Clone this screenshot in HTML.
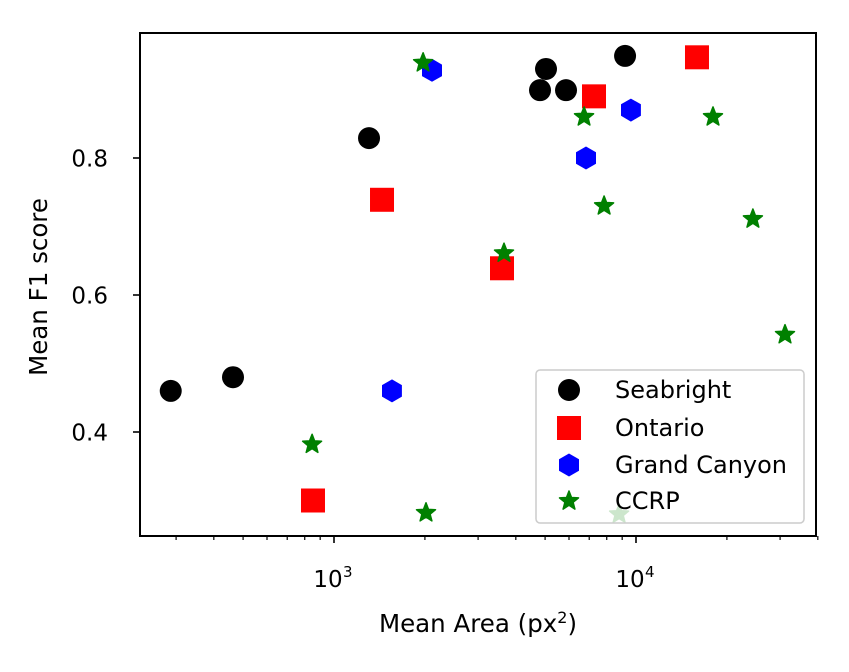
<!DOCTYPE html>
<html><head><meta charset="utf-8"><style>
html,body{margin:0;padding:0;background:#fff;}
svg{display:block;font-family:"DejaVu Sans","Liberation Sans",sans-serif;}
</style></head><body>
<svg id="chart" width="849" height="672" viewBox="0 0 849 672" xmlns="http://www.w3.org/2000/svg">
<g id="marks"></g>
<g id="axes"></g>
<g id="legend"></g>
</svg>
<script>
const seabrightX=[288,463,1306,4810,5035,5865,9200];
const seabrightY=[0.460,0.480,0.829,0.899,0.930,0.899,0.949];
const ontarioX=[852,1442,3600,7260,15920];
const ontarioY=[0.300,0.739,0.639,0.890,0.947];
const canyonX=[2111,1556,6830,9620];
const canyonY=[0.928,0.460,0.800,0.870];
const ccrpX=[1972,846,2017,3655,6730,7840,8790,17990,24380,31150];
const ccrpY=[0.939,0.382,0.282,0.661,0.860,0.730,0.280,0.860,0.711,0.542];
const yTicks=[0.4,0.6,0.8];
const xMajor=[1000,10000];
const xMajorLabels=["10","10"];
const xMinor=[300,400,500,600,700,800,900,2000,3000,4000,5000,6000,7000,8000,9000,20000,30000,40000];

const L=140,R=816,T=33,B=536;
const NS="http://www.w3.org/2000/svg";
function xs(v){return 334+302*Math.log10(v/1000);}
function ys(v){return 158+(0.8-v)*685;}
function mk(tag,attrs,parent){const e=document.createElementNS(NS,tag);for(const k in attrs)e.setAttribute(k,attrs[k]);parent.appendChild(e);return e;}
const marks=document.getElementById('marks'),axes=document.getElementById('axes'),leg=document.getElementById('legend');

function circle(x,y,p){return mk('circle',{cx:x,cy:y,r:11,fill:'#000'},p);}
function square(x,y,p){return mk('rect',{x:x-12,y:y-12,width:24,height:24,fill:'#ff0000'},p);}
function hexagon(x,y,p){let pts=[];for(let i=0;i<6;i++){const a=Math.PI/180*(90+60*i);pts.push((x+11.5*Math.cos(a)).toFixed(1)+','+(y-11.5*Math.sin(a)).toFixed(1));}return mk('polygon',{points:pts.join(' '),fill:'#0000ff'},p);}
function star(x,y,p){let pts=[];for(let i=0;i<10;i++){const r=i%2?4.3:10;const a=Math.PI/180*(90+36*i);pts.push((x+r*Math.cos(a)).toFixed(1)+','+(y-r*Math.sin(a)).toFixed(1));}return mk('polygon',{points:pts.join(' '),fill:'#008000',stroke:'#008000','stroke-width':1.5,'stroke-linejoin':'round'},p);}

for(let i=0;i<seabrightX.length;i++){const e=circle(xs(seabrightX[i]),ys(seabrightY[i]),marks);

}
for(let i=0;i<ontarioX.length;i++){const e=square(xs(ontarioX[i]),ys(ontarioY[i]),marks);

}
for(let i=0;i<canyonX.length;i++){const e=hexagon(xs(canyonX[i]),ys(canyonY[i]),marks);

}
for(let i=0;i<ccrpX.length;i++){const e=star(xs(ccrpX[i]),ys(ccrpY[i]),marks);

}

const fr=mk('rect',{x:L,y:T,width:R-L,height:B-T,fill:'none',stroke:'#000','stroke-width':2},axes);


yTicks.forEach(v=>{const y=ys(v);
mk('line',{x1:L-7,x2:L,y1:y,y2:y,stroke:'#000','stroke-width':1.6},axes);
const t=mk('text',{x:L-32,y:y+8.5,'text-anchor':'end','font-size':23},axes);t.textContent=v.toFixed(1);

});
xMajor.forEach((v,i)=>{const x=xs(v);
mk('line',{x1:x,x2:x,y1:B,y2:B+7,stroke:'#000','stroke-width':1.6},axes);
const t=mk('text',{x:x-6,y:B+51,'text-anchor':'middle','font-size':23},axes);t.textContent=xMajorLabels[i];


const s=mk('text',{x:x+9,y:B+41,'text-anchor':'start','font-size':15},axes);s.textContent=String(Math.round(Math.log10(v)));

});
xMinor.forEach(v=>{const x=xs(v);if(x<L||x>R+3)return;mk('line',{x1:x,x2:x,y1:B,y2:B+4,stroke:'#000','stroke-width':1.2},axes);});
const yl=mk('text',{x:0,y:0,'text-anchor':'middle','font-size':24.5,transform:'translate(47,287) rotate(-90)'},axes);yl.textContent='Mean F1 score';


const xl=mk('text',{x:478,y:632,'text-anchor':'middle','font-size':24.5},axes);
xl.innerHTML='Mean Area (px<tspan font-size="16" dy="-9">2</tspan><tspan dy="9">)</tspan>';



const lb=mk('rect',{x:536,y:370,width:268,height:153,rx:4,fill:'#fff','fill-opacity':0.8,stroke:'#ccc','stroke-width':1.5},leg);


const names=['Seabright','Ontario','Grand Canyon','CCRP'];
const fns=[circle,square,hexagon,star];
const ly=[390,428,465,501];
names.forEach((n,i)=>{const g=mk('g',{},leg);


fns[i](569,ly[i],g);
const t=mk('text',{x:615,y:ly[i]+8,'font-size':24},g);t.textContent=n;});
</script>
</body></html>
